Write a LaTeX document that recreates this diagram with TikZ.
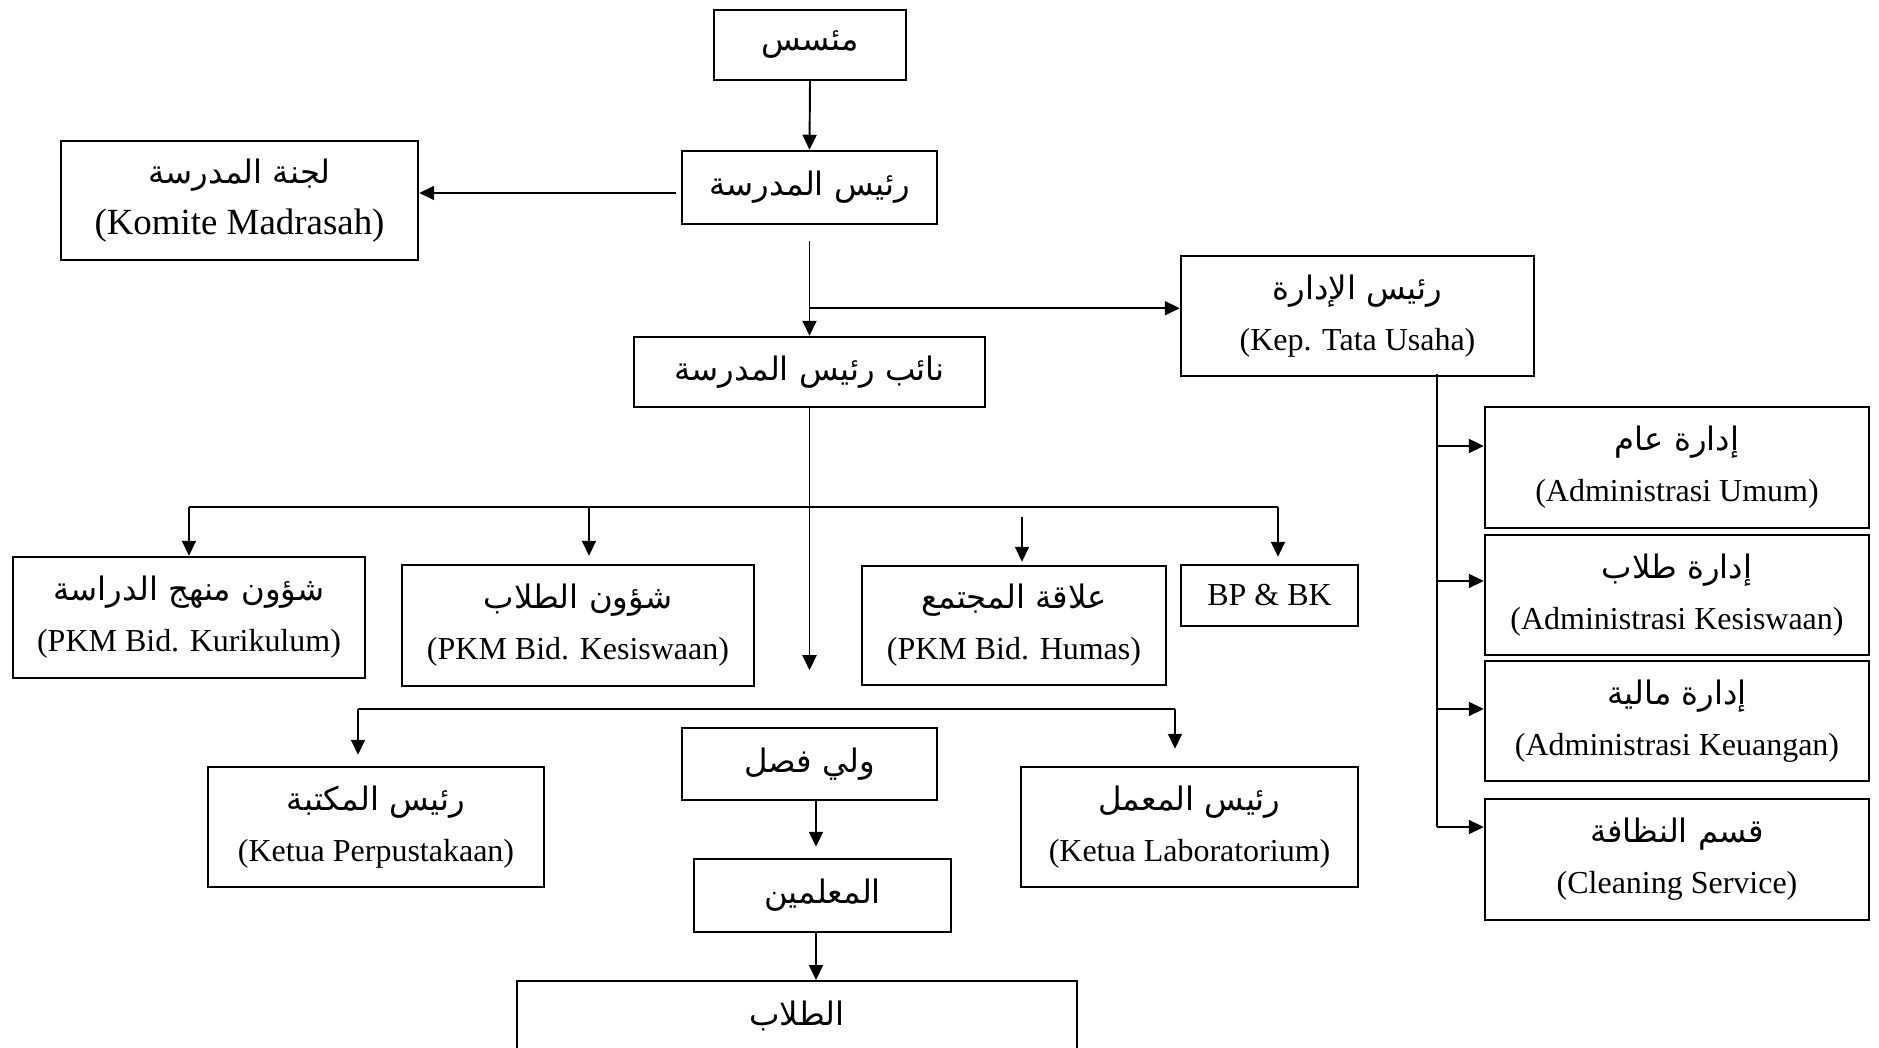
\documentclass[tikz,border=0pt]{standalone}
\usepackage{fontspec}
\setmainfont{Liberation Serif}
\newfontfamily\arabicfont[Script=Arabic]{DejaVu Sans}
\TeXXeTstate=1
\usetikzlibrary{arrows.meta}

\newcommand{\artxt}[1]{{\arabicfont\fontsize{9.2}{12}\selectfont\beginR #1\endR}}

\tikzset{
  box/.style={draw, line width=0.7pt, align=center, inner sep=0pt, font=\fontsize{9.1}{14.5}\selectfont},
  arr/.style={line width=0.55pt, -{Triangle[length=1.5mm,width=1.4mm]}},
  ln/.style={line width=0.55pt},
}

\begin{document}
\begin{tikzpicture}
\useasboundingbox (0,0) rectangle (18.79,10.47);

% top of the chart
\node[box, minimum width=1.92cm, minimum height=0.70cm] (fnd) at (8.10,10.02) {\artxt{مئسس}};
\node[box, minimum width=2.55cm, minimum height=0.73cm] (head) at (8.095,8.595) {\artxt{رئيس المدرسة}};
\node[box, minimum width=3.57cm, minimum height=1.19cm, font=\fontsize{10.5}{14.5}\selectfont] (kom) at (2.395,8.465) {\artxt{لجنة المدرسة}\\(Komite Madrasah)};
\node[box, minimum width=3.53cm, minimum height=1.20cm] (tu) at (13.575,7.31) {\artxt{رئيس الإدارة}\\(Kep. Tata Usaha)};
\node[box, minimum width=3.51cm, minimum height=0.70cm] (vice) at (8.095,6.75) {\artxt{نائب رئيس المدرسة}};

% vice heads
\node[box, minimum width=3.52cm, minimum height=1.21cm] (kur) at (1.89,4.295) {\artxt{شؤون منهج الدراسة}\\(PKM Bid. Kurikulum)};
\node[box, minimum width=3.52cm, minimum height=1.21cm] (kes) at (5.78,4.215) {\artxt{شؤون الطلاب}\\(PKM Bid. Kesiswaan)};
\node[box, minimum width=3.04cm, minimum height=1.19cm] (hum) at (10.14,4.215) {\artxt{علاقة المجتمع}\\(PKM Bid. Humas)};
\node[box, minimum width=1.77cm, minimum height=0.61cm] (bpbk) at (12.695,4.515) {BP \& BK};

% lower part
\node[box, minimum width=2.55cm, minimum height=0.72cm] (wali) at (8.095,2.83) {\artxt{ولي فصل}};
\node[box, minimum width=3.36cm, minimum height=1.20cm] (lib) at (3.76,2.20) {\artxt{رئيس المكتبة}\\(Ketua Perpustakaan)};
\node[box, minimum width=3.37cm, minimum height=1.20cm] (lab) at (11.895,2.20) {\artxt{رئيس المعمل}\\(Ketua Laboratorium)};
\node[box, minimum width=2.57cm, minimum height=0.73cm] (guru) at (8.225,1.515) {\artxt{المعلمين}};
\node[box, minimum width=5.60cm, minimum height=0.70cm, anchor=north] (siswa) at (7.97,0.67) {\artxt{الطلاب}};

% administration
\node[box, minimum width=3.84cm, minimum height=1.21cm] (adm1) at (16.77,5.795) {\artxt{إدارة عام}\\(Administrasi Umum)};
\node[box, minimum width=3.84cm, minimum height=1.20cm] (adm2) at (16.77,4.52) {\artxt{إدارة طلاب}\\(Administrasi Kesiswaan)};
\node[box, minimum width=3.84cm, minimum height=1.20cm] (adm3) at (16.77,3.26) {\artxt{إدارة مالية}\\(Administrasi Keuangan)};
\node[box, minimum width=3.84cm, minimum height=1.21cm] (adm4) at (16.77,1.875) {\artxt{قسم النظافة}\\(Cleaning Service)};

%--------------------------------------------------------

\draw[arr] (fnd.south) -- (head.north);

\coordinate (h1) at ([shift={(-0.05,-0.055)}]head.west);
\draw[arr] (h1) -- (h1 -| kom.east);

\coordinate (h2) at ([yshift=-0.16cm]head.south);
\draw[arr] (h2) -- (vice.north);
\coordinate (j1) at ([yshift=-0.83cm]head.south);
\draw[arr] (j1) -- (j1 -| tu.west);

\coordinate (v1) at ([yshift=-2.62cm]vice.south);
\draw[arr] (vice.south) -- (v1);

% first bus
\coordinate (b1l) at (1.89,5.40);
\coordinate (b1r) at (12.78,5.40);
\coordinate (b1kes) at (5.89,5.40);
\coordinate (b1hum) at (10.22,5.30);
\draw[ln] (b1l) -- (b1r);
\draw[arr] (b1l) -- (b1l |- kur.north);
\draw[arr, shorten >=0.08cm] (b1kes) -- (b1kes |- kes.north);
\draw[arr, shorten >=0.03cm] (b1hum) -- (b1hum |- hum.north);
\draw[arr, shorten >=0.07cm] (b1r) -- (b1r |- bpbk.north);

% second bus
\coordinate (b2l) at (3.58,3.38);
\coordinate (b2r) at (11.75,3.38);
\draw[ln] (b2l) -- (b2r);
\draw[arr, shorten >=0.11cm] (b2l) -- (b2l |- lib.north);
\draw[arr, shorten >=0.17cm] (b2r) -- (b2r |- lab.north);

\coordinate (w1) at ([xshift=0.065cm]wali.south);
\draw[arr, shorten >=0.11cm] (w1) -- (w1 |- guru.north);
\coordinate (g1) at ([xshift=-0.065cm]guru.south);
\draw[arr] (g1) -- (g1 |- siswa.north);

% administration line
\coordinate (t1) at ([xshift=0.795cm,yshift=0.03cm]tu.south);
\coordinate (a1) at ([yshift=0.215cm]adm1.west);
\coordinate (a2) at ([yshift=0.14cm]adm2.west);
\coordinate (a3) at ([yshift=0.12cm]adm3.west);
\coordinate (a4) at ([yshift=0.325cm]adm4.west);
\draw[ln] (t1) -- (t1 |- a4);
\draw[arr] (t1 |- a1) -- (a1);
\draw[arr] (t1 |- a2) -- (a2);
\draw[arr] (t1 |- a3) -- (a3);
\draw[arr] (t1 |- a4) -- (a4);
\end{tikzpicture}
\end{document}
